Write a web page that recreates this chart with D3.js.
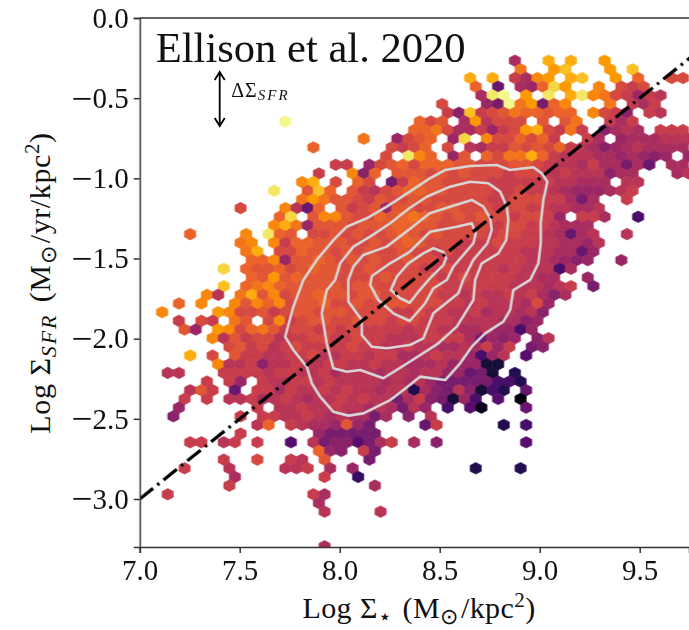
<!DOCTYPE html>
<html>
<head>
<meta charset="utf-8">
<script src="https://cdn.jsdelivr.net/npm/d3@7"></script>
<style>
  html, body { margin: 0; padding: 0; background: #fff; }
  svg { display: block; }
  text { font-family: "Liberation Serif", serif; fill: #111; }
</style>
</head>
<body>
<script>
(function (d3) {
  "use strict";

  /***** Data *****/
  var xTicks = [7.0, 7.5, 8.0, 8.5, 9.0, 9.5];
  var yTicks = [0, -0.5, -1.0, -1.5, -2.0, -2.5, -3.0];

  // hexbin grid, in data units
  var binStartX = 7.0;
  var binWidth = 0.056;
  var binTopRow = 47;
  var binRowZero = -2.8086;
  var binHeight = 0.05409;

  // one string per hex row, top row first, columns left to right.
  // a..z is the colour value in steps of 0.04, "." is an empty bin
  var hexRows = [
    /* 47 */ ".......... .......... .......... ...l..u.u. .t........",
    /* 46 */ ".......... .......... .......... ....r..tv. ..t.v.....",
    /* 45 */ ".......... .......... .........u .u.nlst.uv ..t.q..oo.",
    /* 44 */ ".......... .......... .......... q.h.lkqwt. .s.ono....",
    /* 43 */ ".......... .......... .......... lxy.t.x.ux sronknm...",
    /* 42 */ ".......... .......... .......o.. .kiyrtiqs. ..r.nln...",
    /* 41 */ ".......... .......... .......njv noprqqpqq. sonj.nm...",
    /* 40 */ ".......... ...y...... .....qop.l tmooo.p.pr ..nln.....",
    /* 39 */ ".......... .......... ....qqroll nknotuonrn .jlml.nnn.",
    /* 38 */ ".......... .......... r..kopq.kw .sooqoqn.. nl.klllmmm",
    /* 37 */ ".......... .....q.... ..onoq.o.m lnnpopoqnm ljklmllll.",
    /* 36 */ ".......... .......... ..o.xsq.kp .qorruqnmm mllklkjk.k",
    /* 35 */ ".......... .......nn. kopqoqqqpp ooopponmml nllilh.ll.",
    /* 34 */ ".......... ......n..s jq.pppopop ooonoonmnm mmjll...lm",
    /* 33 */ ".......... ....su.o.q o.inqppooo onnnnnnmml ll.mm.....",
    /* 32 */ ".......... ..x..pvq.p nmopqqppoo oonnonnmlk kklmn.....",
    /* 31 */ ".......... ....rtrppo npooppoooo onnooonnli l..n......",
    /* 30 */ ".........o ...smhq.pn opkppooppo oonoonnmml lm........",
    /* 29 */ ".......... ..qw.psspo oqpqrqpopo poonoonk.n nl..f.....",
    /* 28 */ ".......... ..surkpppo pppqqppooo oonoonnmll l.........",
    /* 27 */ "....q....s .xqp.oopop oopqpopooo onoonnmlhl m..m......",
    /* 26 */ ".........r s.snqqpppo opopqpooon nnonnnmmll km........",
    /* 25 */ ".........r u.ooqppopo poopoononn nnnnmmmllh k.........",
    /* 24 */ ".......... qqskppqpop opoopoonnn nnnnnmmlkj k..k......",
    /* 23 */ ".......w.q ppqopqppoo poooonnonn nnmnmmmfl. ..........",
    /* 22 */ ".......... qptpqpppoo oopoooonno nnnnmmll.. k.........",
    /* 21 */ ".......v.q rsqpppppop poooooonnn nnnmmmlmn. i.........",
    /* 20 */ "......sm.r upsoppqppo ppooooonnm nmmnmnljl. ..........",
    /* 19 */ "...q.s..sp sqsoppqoop ooppooonnm nmmmlok... ..........",
    /* 18 */ "..s....tso opnoppoppo ooonnonnmm nlmmlmj... ..........",
    /* 17 */ "...n.on.rp .osnoppoop oonoonnnmm mmlljk.... ..........",
    /* 16 */ "....pk.tso qrpnoonono nnnnmnnmml lmkkfk.... ..........",
    /* 15 */ "......smpn oomnnoonno nnmmmnnnnl ikjk.jm... ..........",
    /* 14 */ "........op nomnonnnno nnmmnmmllm lnkn.ij... ..........",
    /* 13 */ "....u.o.pn nmmnnommnn mnnllmnmmk fkm.g..... ..........",
    /* 12 */ ".......smm njmmnmmnnm mnmmlllmkk kcc....... ..........",
    /* 11 */ "..mm...nnn nmnnmmnlmm mlmmlmmkkh ic.d...... ..........",
    /* 10 */ "......n.nk .nmmnnmnmm mmlmlmkiii iiffd..... ..........",
    /*  9 */ "....mpn.h. nnlnmmnmnm mlmmdljimj cfd.h..... ..........",
    /*  8 */ "....n.n.mm nlmnmlmmnm nmmilnjick f.g.a..... ..........",
    /*  7 */ "...k...... n.mmnmmnmm lmlimk.f.g b...h..... ..........",
    /*  6 */ "...j.....n .nnmmnmlml lil.j.m... .......... ..........",
    /*  5 */ ".......... mq.nmllkpk i....hn... ..d.f..... ..........",
    /*  4 */ ".........n ......kiii ii........ .......... ..........",
    /*  3 */ "....nn.mn. n..g.mijjg iln.l.j... ....g..... ..........",
    /*  2 */ ".......... ......qkj. ni........ .......... ..........",
    /*  1 */ ".......n.. o..nm.p... i......... .......... ..........",
    /*  0 */ "....n...m. ...mmn.l.k .......... d...d..... ..........",
    /* -1 */ "........l. ......n..e .......... .......... ..........",
    /* -2 */ "........n. .......... .l........ .......... ..........",
    /* -3 */ "..n....... .....nl... .......... .......... ..........",
    /* -4 */ ".......... ......l... .......... .......... ..........",
    /* -5 */ ".......... ......m... .m........ .......... ..........",
    /* -6 */ ".......... .......... .......... .......... ..........",
    /* -7 */ ".......... .......... .......... .......... ..........",
    /* -8 */ ".......... .......... .......... .......... ..........",
    /* -9 */ ".......... ......l... .......... .......... .........."
  ];

  // density contours, outermost first, [log mass density, log SFR density]
  var contour1 = [[8.35,-1.083],[8.45,-1.0],[8.527,-0.948],[8.65,-0.923],[8.785,-0.917],[8.85,-0.948],[8.968,-0.931],[9.01,-0.969],[9.038,-1.021],[9.018,-1.135],[9.005,-1.28],[9.005,-1.405],[8.993,-1.53],[8.952,-1.634],[8.868,-1.697],[8.852,-1.821],[8.818,-1.894],[8.727,-1.967],[8.66,-2.05],[8.602,-2.154],[8.527,-2.258],[8.401,-2.237],[8.35,-2.289],[8.252,-2.383],[8.118,-2.466],[8.043,-2.48],[7.968,-2.456],[7.902,-2.362],[7.86,-2.278],[7.835,-2.175],[7.768,-2.071],[7.727,-1.988],[7.768,-1.801],[7.818,-1.634],[7.885,-1.509],[7.968,-1.385],[8.035,-1.302],[8.135,-1.249],[8.235,-1.177]];
  var contour2 = [[8.35,-1.185],[8.435,-1.115],[8.552,-1.052],[8.652,-1.021],[8.743,-1.031],[8.802,-1.083],[8.835,-1.177],[8.843,-1.26],[8.832,-1.385],[8.793,-1.468],[8.71,-1.53],[8.677,-1.634],[8.668,-1.759],[8.585,-1.925],[8.493,-2.029],[8.35,-2.144],[8.218,-2.247],[8.102,-2.195],[8.035,-2.206],[7.968,-2.185],[7.935,-2.029],[7.91,-1.842],[7.935,-1.697],[7.977,-1.634],[8.002,-1.53],[8.068,-1.426],[8.152,-1.364],[8.252,-1.28]];
  var contour3 = [[8.35,-1.316],[8.45,-1.218],[8.552,-1.177],[8.66,-1.135],[8.718,-1.177],[8.752,-1.249],[8.76,-1.322],[8.738,-1.405],[8.668,-1.509],[8.617,-1.634],[8.593,-1.717],[8.468,-1.842],[8.418,-1.998],[8.35,-2.04],[8.235,-2.06],[8.16,-2.05],[8.11,-1.977],[8.11,-1.884],[8.043,-1.769],[8.043,-1.634],[8.068,-1.551],[8.118,-1.478],[8.235,-1.426]];
  var contour4 = [[8.35,-1.458],[8.452,-1.333],[8.585,-1.302],[8.66,-1.28],[8.68,-1.343],[8.668,-1.405],[8.568,-1.551],[8.535,-1.634],[8.468,-1.686],[8.427,-1.779],[8.35,-1.89],[8.268,-1.842],[8.193,-1.759],[8.152,-1.665],[8.161,-1.609],[8.252,-1.53]];
  var contour5 = [[8.468,-1.436],[8.418,-1.468],[8.343,-1.53],[8.285,-1.613],[8.255,-1.697],[8.302,-1.748],[8.35,-1.776],[8.393,-1.707],[8.452,-1.622],[8.518,-1.541],[8.532,-1.499],[8.518,-1.46]];
  var contours = [contour1, contour2, contour3, contour4, contour5];

  // Log SFR = Log mass - 10
  var fitLine = [[7.0, -3.0], [10.0, 0.0]];
  var arrowX = 7.4;
  var arrowY = [-0.337, -0.674];

  /***** Configuration *****/
  var margin = { top: 18, left: 139.7, bottom: 83 };
  var svgWidth = 689;
  var svgHeight = 630;
  var height = svgHeight - margin.top - margin.bottom;
  var width = svgWidth - margin.left;

  /***** Scales *****/
  var x = d3.scaleLinear().domain([7.0, 7.0 + width / 200]).range([0, width]);
  var y = d3.scaleLinear().domain([0, -height / 160.33]).range([0, height]);
  // the reference interior sits a touch warmer than the letter steps
  var color = d3.scaleSequential(d3.interpolateInferno).domain([-0.015, 0.985]);

  /***** Creation of the required svg elements *****/
  var svg = d3.select("body")
    .append("svg")
    .attr("width", svgWidth)
    .attr("height", svgHeight);

  var defs = svg.append("defs");
  defs.append("clipPath")
    .attr("id", "plot-clip")
    .append("rect")
    .attr("width", width)
    .attr("height", height);
  defs.append("filter")
    .attr("id", "soft")
    .attr("x", "-2%").attr("y", "-2%").attr("width", "104%").attr("height", "104%")
    .append("feGaussianBlur")
    .attr("stdDeviation", 0.35);

  var g = svg.append("g")
    .attr("transform", "translate(" + margin.left + "," + margin.top + ")");
  var plot = g.append("g").attr("clip-path", "url(#plot-clip)");

  /***** Hexbin *****/
  var bins = [];
  hexRows.forEach(function (row, i) {
    var k = binTopRow - i;
    var offset = Math.abs(k) % 2 === 1 ? binWidth / 2 : 0;
    row.replace(/ /g, "").split("").forEach(function (code, c) {
      if (code === ".") return;
      bins.push({
        mass: binStartX + c * binWidth + offset,
        sfr: binRowZero + k * binHeight,
        value: (code.charCodeAt(0) - 97) * 0.04
      });
    });
  });

  var halfW = (x(binStartX + binWidth) - x(binStartX)) / 2;
  var radius = (y(0) - y(binHeight)) * 2 / 3;
  var hexPath = "M0," + (-radius) +
    "L" + halfW + "," + (-radius / 2) +
    "L" + halfW + "," + (radius / 2) +
    "L0," + radius +
    "L" + (-halfW) + "," + (radius / 2) +
    "L" + (-halfW) + "," + (-radius / 2) + "Z";

  plot.append("g")
    .attr("filter", "url(#soft)")
    .selectAll("path")
    .data(bins)
    .join("path")
    .attr("d", hexPath)
    .attr("transform", function (d) { return "translate(" + x(d.mass) + "," + y(d.sfr) + ")"; })
    .attr("fill", function (d) { return color(d.value); })
    .attr("stroke", function (d) { return color(d.value); })
    .attr("stroke-width", 0.7);

  /***** Contours *****/
  var contourLine = d3.line()
    .x(function (d) { return x(d[0]); })
    .y(function (d) { return y(d[1]); })
    .curve(d3.curveLinearClosed);

  plot.append("g").selectAll("path")
    .data(contours)
    .join("path")
    .attr("d", contourLine)
    .attr("fill", "none")
    .attr("stroke", "#d6d6d6")
    .attr("stroke-width", 2.6)
    .attr("stroke-linejoin", "round");

  /***** Fit line *****/
  plot.append("path")
    .datum(fitLine)
    .attr("d", d3.line()
      .x(function (d) { return x(d[0]); })
      .y(function (d) { return y(d[1]); }))
    .attr("fill", "none")
    .attr("stroke", "#000")
    .attr("stroke-width", 3.3)
    .attr("stroke-dasharray", "17 5.5 2.5 5.5");

  /***** Axes *****/
  var xAxis = d3.axisBottom(x).tickValues(xTicks).tickSize(6).tickPadding(6)
    .tickFormat(d3.format(".1f"));
  var yAxis = d3.axisLeft(y).tickValues(yTicks).tickSize(6).tickPadding(5)
    .tickFormat(function (d) { return d3.format(".1f")(Math.abs(d)); });

  var xGroup = g.append("g").attr("transform", "translate(0," + height + ")").call(xAxis);
  var yGroup = g.append("g").call(yAxis);

  [xGroup, yGroup].forEach(function (axis) {
    axis.selectAll("path, line").attr("stroke", "#333").attr("stroke-width", 1.5);
    axis.selectAll("text")
      .style("font-family", '"Liberation Serif", serif')
      .style("font-size", "29px")
      .attr("fill", "#111");
  });

  // long computer modern style minus in front of the negative tick labels
  yGroup.selectAll("text").each(function (d) {
    if (d >= 0) return;
    var label = d3.select(this);
    var digits = label.text();
    label.text("");
    label.append("tspan").attr("dy", "0.32em").style("font-size", "37px").style("font-weight", "100").text("\u2212");
    label.append("tspan").attr("dy", "-0.09em").text(digits);
  });

  // top spine only, the right one is cut off by the crop
  g.append("line")
    .attr("x1", 0).attr("x2", width)
    .attr("y1", 0).attr("y2", 0)
    .attr("stroke", "#333").attr("stroke-width", 1.5);

  /***** Annotations *****/
  g.append("text")
    .attr("x", 16)
    .attr("y", 44)
    .style("font-size", "42.6px")
    .attr("fill", "#000")
    .text("Ellison et al. 2020");

  var ax = x(arrowX), ay0 = y(arrowY[0]), ay1 = y(arrowY[1]);
  g.append("path")
    .attr("d", "M" + ax + "," + ay0 + "L" + ax + "," + ay1 +
      "M" + (ax - 5) + "," + (ay0 + 8) + "L" + ax + "," + ay0 + "L" + (ax + 5) + "," + (ay0 + 8) +
      "M" + (ax - 5) + "," + (ay1 - 8) + "L" + ax + "," + ay1 + "L" + (ax + 5) + "," + (ay1 - 8))
    .attr("fill", "none")
    .attr("stroke", "#000")
    .attr("stroke-width", 1.8);

  var delta = g.append("text")
    .attr("x", x(7.4) + 11.5)
    .attr("y", y(-0.49))
    .style("font-size", "20px")
    .attr("letter-spacing", 1)
    .attr("fill", "#222");
  delta.append("tspan").text("\u0394\u03A3");
  delta.append("tspan").attr("dy", 3).style("font-size", "15px").style("font-style", "italic")
    .attr("letter-spacing", 2).text("SFR");

  /***** Axis labels *****/
  function addSub(el, s, italic, spacing) {
    el.append("tspan").attr("dy", 6).style("font-size", "22px")
      .attr("letter-spacing", spacing || 0)
      .style("font-style", italic ? "italic" : "normal").text(s);
    el.append("tspan").attr("dy", -6).text("\u200A");
  }

  var xLabel = svg.append("text")
    .attr("text-anchor", "middle")
    .attr("x", 419)
    .attr("y", 618)
    .attr("letter-spacing", 0.4)
    .style("font-size", "30px");
  xLabel.append("tspan").text("Log \u03A3");
  addSub(xLabel, "\u22C6");
  xLabel.append("tspan").text(" (M");
  addSub(xLabel, "\u2299");
  xLabel.append("tspan").text("/kpc");
  xLabel.append("tspan").attr("dy", -11).style("font-size", "21px").text("2");
  xLabel.append("tspan").attr("dy", 11).text(")");

  var yLabel = svg.append("text")
    .attr("text-anchor", "middle")
    .attr("transform", "translate(50,283) rotate(-90)")
    .attr("letter-spacing", 0.6)
    .style("font-size", "30px");
  yLabel.append("tspan").text("Log \u03A3");
  addSub(yLabel, "SFR", true, 2);
  yLabel.append("tspan").text(" (M");
  addSub(yLabel, "\u2299");
  yLabel.append("tspan").text("/yr/kpc");
  yLabel.append("tspan").attr("dy", -11).style("font-size", "21px").text("2");
  yLabel.append("tspan").attr("dy", 11).text(")");

})(d3);
</script>
</body>
</html>
